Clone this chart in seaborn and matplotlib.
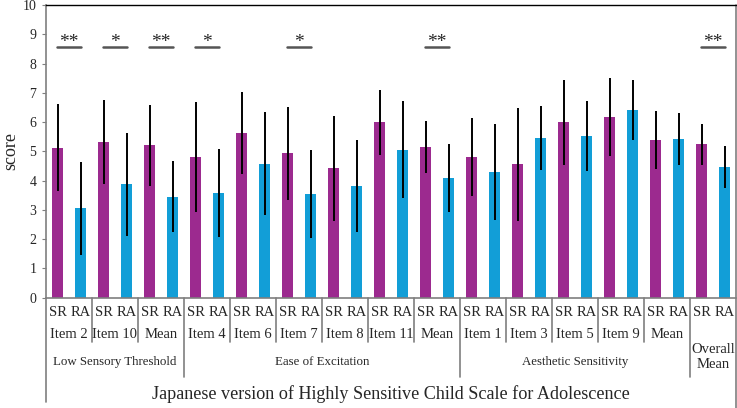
"""HSCS-A subscale scores: self-report (SR) vs. rater assessment (RA)."""

import matplotlib

matplotlib.use("Agg")
import matplotlib.pyplot as plt  # noqa: E402
import matplotlib.transforms as mtransforms  # noqa: E402
import pandas as pd  # noqa: E402
import seaborn as sns  # noqa: E402

item_labels = ["Item 2", "Item 10", "Mean", "Item 4", "Item 6", "Item 7", "Item 8",
               "Item 11", "Mean", "Item 1", "Item 3", "Item 5", "Item 9", "Mean",
               "Overall\nMean"]
sr_mean = [5.13, 5.31, 5.20, 4.81, 5.62, 4.93, 4.42, 5.99, 5.15, 4.81, 4.56, 5.99, 6.17, 5.38, 5.24]
sr_sd = [1.49, 1.44, 1.37, 1.87, 1.40, 1.60, 1.80, 1.12, 0.89, 1.34, 1.93, 1.45, 1.33, 1.00, 0.71]
ra_mean = [3.05, 3.87, 3.45, 3.58, 4.58, 3.53, 3.82, 5.05, 4.10, 4.28, 5.46, 5.52, 6.41, 5.42, 4.46]
ra_sd = [1.59, 1.77, 1.22, 1.50, 1.75, 1.50, 1.57, 1.66, 1.16, 1.64, 1.09, 1.20, 1.02, 0.90, 0.72]
significance = ["**", "*", "**", "*", "", "*", "", "", "**", "", "", "", "", "", "**"]
subscales = ["Low Sensory Threshold", "Ease of Excitation", "Aesthetic Sensitivity"]
subscale_spans = [(0, 2), (3, 8), (9, 13)]
raters = ["SR", "RA"]
sig_level = 8.56

PURPLE = "#9C2A8F"
BLUE = "#129ED7"
GRAY = "#7F7F7F"

sns.set_style("white")
plt.rcParams["font.family"] = ["Liberation Serif", "DejaVu Serif"]

n = len(item_labels)
df = pd.DataFrame({
    "group": list(range(n)) * 2,
    "rater": ["SR"] * n + ["RA"] * n,
    "score": sr_mean + ra_mean,
    "sd": sr_sd + ra_sd,
})

fig = plt.figure(figsize=(7.37, 4.08), dpi=100)
ax = fig.add_axes([46 / 737, 1 - 297.7 / 408, 690 / 737, 292.7 / 408])

sns.barplot(
    data=df, x="group", y="score", hue="rater", order=list(range(n)),
    hue_order=raters, palette=[PURPLE, BLUE], saturation=1, width=1.0, gap=0.56,
    errorbar=None, legend=False, ax=ax, linewidth=0,
)

# error bars (mean +/- SD), positioned on the drawn bars
bars = sorted(ax.patches, key=lambda p: p.get_x())
centers = [b.get_x() + b.get_width() / 2 for b in bars]
tops = [b.get_height() for b in bars]
sds = []
for i in range(n):
    sds += [sr_sd[i], ra_sd[i]]
ax.errorbar(centers, tops, yerr=sds, fmt="none", ecolor="black", elinewidth=1.4, capsize=0)

# significance brackets
for i, mark in enumerate(significance):
    if not mark:
        continue
    x0, x1 = centers[2 * i], centers[2 * i + 1]
    ax.plot([x0 - 0.02, x1 + 0.02], [sig_level, sig_level], color="#555555", lw=1.8)
    ax.text((x0 + x1) / 2, sig_level + 0.02, mark, ha="center", va="baseline", fontsize=14)

ax.set_xlim(-0.5, n - 0.5)
ax.set_ylim(0, 10)
ax.set_yticks(range(11))
ax.tick_params(axis="y", labelsize=10, length=3, color=GRAY, direction="out", left=True, pad=4)
ax.set_xticks([])
ax.set_xlabel("")
ax.set_ylabel("score", fontsize=13)
ax.yaxis.set_label_coords(-27 / 690, 0.5)
for side in ["left", "bottom"]:
    ax.spines[side].set_color(GRAY)
    ax.spines[side].set_linewidth(1.2)
ax.spines["top"].set_color("black")
ax.spines["top"].set_linewidth(1.0)
ax.spines["right"].set_visible(False)

# table-like category labels below the axis
trans = mtransforms.blended_transform_factory(ax.transData, ax.transAxes)
px = 1 / 292.7  # one pixel in axes units


def yb(pix):
    return -(pix - 297.7) * px


for i in range(n):
    ax.text(centers[2 * i], yb(313), "SR", transform=trans, ha="center", va="center", fontsize=10.5)
    ax.text(centers[2 * i + 1], yb(313), "RA", transform=trans, ha="center", va="center", fontsize=10.5)
    if i < n - 1:
        ax.text(i, yb(335), item_labels[i], transform=trans, ha="center", va="center", fontsize=10.5)
ax.text(n - 1, yb(357), item_labels[-1], transform=trans, ha="center", va="center",
        fontsize=10.5, linespacing=1.15)

for name, (a, b) in zip(subscales, subscale_spans):
    ax.text((a + b) / 2, yb(362), name, transform=trans, ha="center", va="center", fontsize=9.3)

category_edges = {b + 0.5 for _, b in subscale_spans}
for k in range(1, n):
    edge = k - 0.5
    low = yb(377) if edge in category_edges else yb(342)
    ax.plot([edge, edge], [0, low], transform=trans, color=GRAY, lw=1.2, clip_on=False)
ax.plot([-0.5, -0.5], [0, yb(402)], transform=trans, color=GRAY, lw=1.2, clip_on=False)
ax.plot([n - 0.5, n - 0.5], [1, yb(410)], transform=trans, color=GRAY, lw=1.2, clip_on=False)

ax.text((n - 1) / 2, yb(394), "Japanese version of Highly Sensitive Child Scale for Adolescence",
        transform=trans, ha="center", va="center", fontsize=13.1)

fig.savefig("out.png", dpi=100)
